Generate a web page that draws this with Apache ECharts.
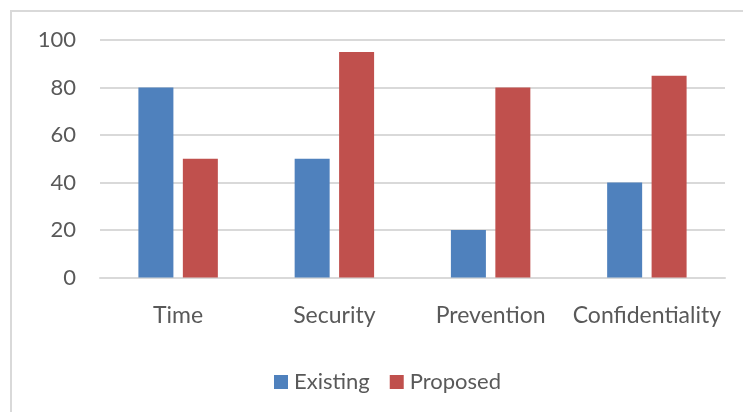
<!DOCTYPE html>
<html>
<head>
<meta charset="utf-8">
<script src="https://cdn.jsdelivr.net/npm/echarts@6/dist/echarts.min.js"></script>
<style>
  html, body { margin: 0; padding: 0; background: #fff; }
  #chart { width: 743px; height: 412px; }
</style>
</head>
<body>
<div id="chart"></div>
<script>
// 图表数据
const categories = ['Time', 'Security', 'Prevention', 'Confidentiality']
const existing = [80, 50, 20, 40]
const proposed = [50, 95, 80, 85]
const seriesNames = ['Existing', 'Proposed']

const textColor = '#595959'
const fontFamily = 'Lato, "Open Sans", sans-serif'

const myChart = echarts.init(document.getElementById('chart'))
const option = {
  animation: false,
  backgroundColor: '#fff',
  textStyle: { fontFamily: fontFamily },
  // 外框
  graphic: [
    {
      type: 'rect',
      shape: { x: 11, y: 11, width: 760, height: 420 },
      style: { fill: 'none', stroke: '#d9d9d9', lineWidth: 2 }
    }
  ],
  grid: { left: 100, right: 18, top: 40, bottom: 134.5 },
  legend: {
    data: seriesNames,
    bottom: 14,
    left: 269,
    itemWidth: 14,
    itemHeight: 14,
    itemGap: 20,
    icon: 'rect',
    textStyle: { color: textColor, fontSize: 22, fontFamily: fontFamily, padding: [0, 0, 0, 1] }
  },
  xAxis: {
    type: 'category',
    data: categories,
    axisLine: { lineStyle: { color: '#d9d9d9', width: 2 } },
    axisTick: { show: false },
    axisLabel: { color: textColor, fontSize: 23, margin: 27, interval: 0, fontFamily: fontFamily }
  },
  yAxis: {
    type: 'value',
    min: 0,
    max: 100,
    interval: 20,
    axisLine: { show: false },
    axisTick: { show: false },
    axisLabel: { color: textColor, fontSize: 22, margin: 24, fontFamily: fontFamily },
    splitLine: { lineStyle: { color: '#d9d9d9', width: 2 } }
  },
  series: [
    {
      name: seriesNames[0],
      type: 'bar',
      data: existing,
      barWidth: 35,
      barGap: '27%',
      itemStyle: { color: '#4f81bd' }
    },
    {
      name: seriesNames[1],
      type: 'bar',
      data: proposed,
      barWidth: 35,
      itemStyle: { color: '#c0504d' }
    }
  ]
}
option && myChart.setOption(option)
</script>
</body>
</html>
